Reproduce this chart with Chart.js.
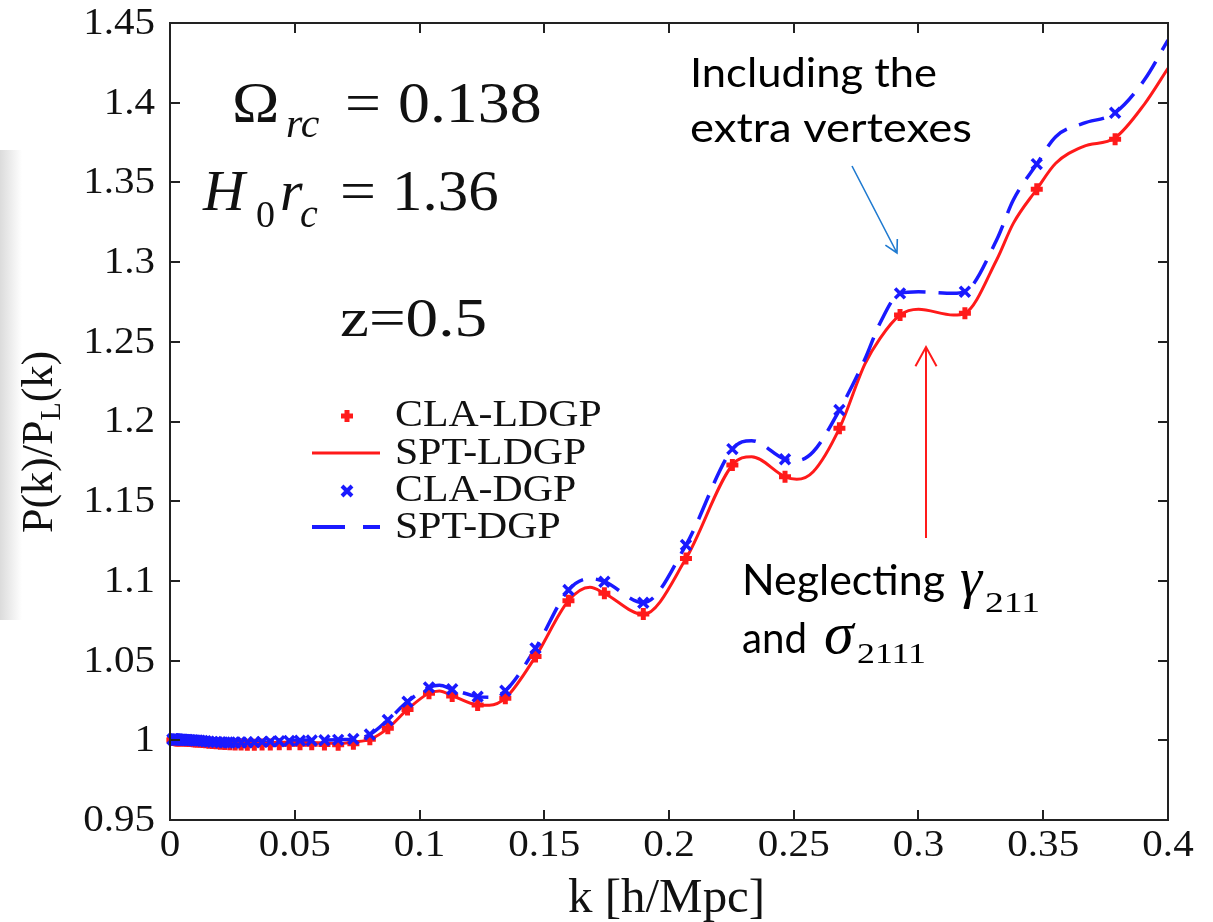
<!DOCTYPE html>
<html>
<head>
<meta charset="utf-8">
<script src="https://cdn.jsdelivr.net/npm/chart.js@4.4.0/dist/chart.umd.min.js"></script>
<style>
  html, body { margin: 0; padding: 0; background: #fff; }
  canvas { display: block; }
</style>
</head>
<body>
<canvas id="chart" width="1213" height="922"></canvas>
<script>
// smooth curves (SPT)
const kLine = [0, 0.01, 0.02, 0.03, 0.04, 0.05, 0.06, 0.068, 0.0735, 0.0801,
  0.0873, 0.0952, 0.1038, 0.108, 0.1131, 0.1233, 0.128, 0.1344, 0.1465, 0.1597,
  0.1683, 0.1741, 0.1897, 0.2068, 0.2254, 0.2331, 0.2465, 0.2512, 0.2578, 0.2683,
  0.2785, 0.2846, 0.2926, 0.3, 0.314, 0.3186, 0.3313, 0.338, 0.3474, 0.355,
  0.366, 0.3788, 0.3905, 0.4];
const sptLdgp = [1.0000, 0.9995, 0.9985, 0.9980, 0.9985, 0.9990, 0.9985, 0.9980, 0.9990, 1.0006,
  1.0075, 1.0194, 1.0295, 1.0310, 1.0280, 1.0222, 1.0220, 1.0264, 1.0525, 1.0876,
  1.0960, 1.0922, 1.0790, 1.1140, 1.1727, 1.1779, 1.1654, 1.1637, 1.1685, 1.1957,
  1.2360, 1.2522, 1.2668, 1.2704, 1.2668, 1.2679, 1.3013, 1.3243, 1.3457, 1.3620,
  1.3725, 1.3780, 1.3990, 1.4216];
const sptDgp = [1.0005, 1.0002, 0.9990, 0.9985, 0.9990, 1.0000, 1.0002, 1.0004, 1.0008, 1.0036,
  1.0127, 1.0242, 1.0332, 1.0345, 1.0320, 1.0274, 1.0270, 1.0311, 1.0577, 1.0943,
  1.1015, 1.0995, 1.0863, 1.1225, 1.1827, 1.1880, 1.1763, 1.1755, 1.1810, 1.2072,
  1.2390, 1.2618, 1.2804, 1.2814, 1.2804, 1.2814, 1.3139, 1.3390, 1.3615, 1.3787,
  1.3870, 1.3937, 1.4142, 1.4393];

// CLA points
const kMark = [0.0010, 0.0011, 0.0012, 0.0013, 0.0014, 0.0015, 0.0016, 0.0018, 0.0020, 0.0021,
  0.0023, 0.0025, 0.0028, 0.0030, 0.0033, 0.0036, 0.0039, 0.0043, 0.0047, 0.0051,
  0.0055, 0.0060, 0.0066, 0.0072, 0.0078, 0.0085, 0.0093, 0.0101, 0.0110, 0.0120,
  0.0131, 0.0143, 0.0156, 0.0170, 0.0185, 0.0202, 0.0220, 0.0240, 0.0261, 0.0285,
  0.0310, 0.0338, 0.0369, 0.0402, 0.0438, 0.0478, 0.0521, 0.0568, 0.0619, 0.0674,
  0.0735, 0.0801, 0.0873, 0.0952, 0.1038, 0.1131, 0.1233, 0.1344, 0.1465, 0.1597,
  0.1741, 0.1897, 0.2068, 0.2254, 0.2465, 0.2683, 0.2926, 0.3186, 0.3474, 0.3788];
const claLdgp = [1.0002, 1.0002, 1.0002, 1.0002, 1.0002, 1.0002, 1.0002, 1.0002, 1.0002, 1.0002,
  1.0001, 1.0001, 1.0001, 1.0001, 1.0001, 1.0001, 1.0001, 1.0001, 1.0001, 1.0001,
  1.0000, 0.9999, 0.9998, 0.9997, 0.9996, 0.9995, 0.9994, 0.9993, 0.9992, 0.9991,
  0.9989, 0.9987, 0.9985, 0.9983, 0.9981, 0.9979, 0.9977, 0.9975, 0.9974, 0.9973,
  0.9972, 0.9972, 0.9973, 0.9974, 0.9975, 0.9976, 0.9976, 0.9975, 0.9973, 0.9972,
  0.9978, 1.0006, 1.0075, 1.0194, 1.0295, 1.0278, 1.0222, 1.0264, 1.0525, 1.0876,
  1.0922, 1.0792, 1.1140, 1.1727, 1.1654, 1.1957, 1.2668, 1.2679, 1.3457, 1.3770];
const claDgp = [1.0006, 1.0006, 1.0006, 1.0006, 1.0006, 1.0006, 1.0006, 1.0005, 1.0005, 1.0005,
  1.0005, 1.0005, 1.0005, 1.0005, 1.0005, 1.0004, 1.0004, 1.0004, 1.0004, 1.0004,
  1.0003, 1.0003, 1.0002, 1.0002, 1.0001, 1.0001, 1.0000, 0.9999, 0.9999, 0.9998,
  0.9996, 0.9994, 0.9992, 0.9990, 0.9989, 0.9988, 0.9987, 0.9986, 0.9986, 0.9986,
  0.9987, 0.9988, 0.9990, 0.9992, 0.9994, 0.9996, 0.9998, 0.9999, 1.0000, 1.0003,
  1.0008, 1.0036, 1.0127, 1.0242, 1.0332, 1.0320, 1.0274, 1.0311, 1.0577, 1.0943,
  1.0995, 1.0863, 1.1225, 1.1827, 1.1763, 1.2072, 1.2804, 1.2814, 1.3615, 1.3937];

const xTicks = [0, 0.05, 0.1, 0.15, 0.2, 0.25, 0.3, 0.35, 0.4];
const xTickLabels = ["0", "0.05", "0.1", "0.15", "0.2", "0.25", "0.3", "0.35", "0.4"];
const yTicks = [0.95, 1, 1.05, 1.1, 1.15, 1.2, 1.25, 1.3, 1.35, 1.4, 1.45];
const yTickLabels = ["0.95", "1", "1.05", "1.1", "1.15", "1.2", "1.25", "1.3", "1.35", "1.4", "1.45"];

const RED = "#ff1a1a";
const BLUE = "#1a1aff";
const SERIF = '"Liberation Serif", "Times New Roman", serif';
const SANS = 'Lato, "Open Sans", sans-serif';

const pts = (xs, ys) => xs.map((x, i) => ({ x: x, y: ys[i] }));

// text with horizontal stretch
function txt(ctx, s, x, y, font, sx, align, base) {
  ctx.save();
  ctx.font = font;
  ctx.translate(x, y);
  ctx.scale(sx, 1);
  ctx.textAlign = align || "left";
  ctx.textBaseline = base || "alphabetic";
  ctx.fillText(s, 0, 0);
  ctx.restore();
}
// text squeezed/stretched to a given width
function fit(ctx, s, x, y, font, w) {
  ctx.save();
  ctx.font = font;
  const m = ctx.measureText(s).width;
  ctx.translate(x, y);
  ctx.scale(w / m, 1);
  ctx.fillText(s, 0, 0);
  ctx.restore();
}
function plus(ctx, x, y, r, lw, c) {
  ctx.save();
  ctx.strokeStyle = c; ctx.lineWidth = lw;
  ctx.beginPath();
  ctx.moveTo(x - r, y); ctx.lineTo(x + r, y);
  ctx.moveTo(x, y - r); ctx.lineTo(x, y + r);
  ctx.stroke();
  ctx.restore();
}
function cross(ctx, x, y, r, lw, c) {
  ctx.save();
  ctx.strokeStyle = c; ctx.lineWidth = lw;
  ctx.beginPath();
  ctx.moveTo(x - r, y - r); ctx.lineTo(x + r, y + r);
  ctx.moveTo(x - r, y + r); ctx.lineTo(x + r, y - r);
  ctx.stroke();
  ctx.restore();
}
function arrow(ctx, x1, y1, x2, y2, c, lw, head) {
  const a = Math.atan2(y2 - y1, x2 - x1);
  ctx.save();
  ctx.strokeStyle = c; ctx.lineWidth = lw;
  ctx.beginPath();
  ctx.moveTo(x1, y1); ctx.lineTo(x2, y2);
  ctx.moveTo(x2 - head * Math.cos(a - 0.5), y2 - head * Math.sin(a - 0.5));
  ctx.lineTo(x2, y2);
  ctx.lineTo(x2 - head * Math.cos(a + 0.5), y2 - head * Math.sin(a + 0.5));
  ctx.stroke();
  ctx.restore();
}

const decor = {
  id: "decor",
  beforeDraw(chart) {
    const ctx = chart.ctx;
    ctx.save();
    ctx.fillStyle = "#fff";
    ctx.fillRect(0, 0, chart.width, chart.height);
    // faint slide shadow on the left edge
    const g = ctx.createLinearGradient(0, 0, 22, 0);
    g.addColorStop(0, "rgba(190,190,190,0.55)");
    g.addColorStop(1, "rgba(190,190,190,0)");
    ctx.fillStyle = g;
    ctx.fillRect(0, 150, 22, 470);
    ctx.restore();
  },
  afterDraw(chart) {
    const ctx = chart.ctx;
    const a = chart.chartArea;
    const xs = chart.scales.x, ys = chart.scales.y;
    ctx.save();
    ctx.fillStyle = "#111";

    // frame + inward ticks
    ctx.strokeStyle = "#222";
    ctx.lineWidth = 2;
    ctx.strokeRect(a.left, a.top, a.right - a.left, a.bottom - a.top);
    ctx.beginPath();
    xTicks.forEach(v => {
      const px = Math.round(xs.getPixelForValue(v));
      ctx.moveTo(px, a.bottom); ctx.lineTo(px, a.bottom - 10);
      ctx.moveTo(px, a.top); ctx.lineTo(px, a.top + 10);
    });
    yTicks.forEach(v => {
      const py = Math.round(ys.getPixelForValue(v));
      ctx.moveTo(a.left, py); ctx.lineTo(a.left + 10, py);
      ctx.moveTo(a.right, py); ctx.lineTo(a.right - 10, py);
    });
    ctx.stroke();

    // tick labels
    const tf = "38px " + SERIF;
    xTicks.forEach((v, i) => txt(ctx, xTickLabels[i], xs.getPixelForValue(v), 856, tf, 1.08, "center"));
    yTicks.forEach((v, i) => txt(ctx, yTickLabels[i], 155, ys.getPixelForValue(v) + 1, tf, 1.08, "right", "middle"));

    // axis titles
    txt(ctx, "k [h/Mpc]", 568, 912, "48px " + SERIF, 1.02, "left");
    ctx.save();
    ctx.translate(52, 533);
    ctx.rotate(-Math.PI / 2);
    ctx.font = "44px " + SERIF;
    const w1 = ctx.measureText("P(k)/P").width;
    ctx.fillText("P(k)/P", 0, 0);
    ctx.font = "30px " + SERIF;
    const w2 = ctx.measureText("L").width;
    ctx.fillText("L", w1, 8);
    ctx.font = "44px " + SERIF;
    ctx.fillText("(k)", w1 + w2, 0);
    ctx.restore();

    // parameter block
    txt(ctx, "\u03A9", 232, 122, "58px " + SERIF, 1.1);
    txt(ctx, "rc", 286, 137, "italic 40px " + SERIF, 1.05);
    txt(ctx, "=", 345, 122, "58px " + SERIF, 1.1);
    txt(ctx, "0.138", 398, 122, "58px " + SERIF, 1.1);
    txt(ctx, "H", 203, 210, "italic 58px " + SERIF, 1.0);
    txt(ctx, "0", 256, 227, "38px " + SERIF, 1.0);
    txt(ctx, "r", 280, 210, "italic 58px " + SERIF, 1.0);
    txt(ctx, "c", 300, 227, "italic 40px " + SERIF, 1.0);
    txt(ctx, "=", 340, 210, "58px " + SERIF, 1.1);
    txt(ctx, "1.36", 392, 210, "58px " + SERIF, 1.05);
    fit(ctx, "z=0.5", 340, 336, "54px " + SERIF, 147);

    // callouts
    ctx.fillStyle = "#000";
    fit(ctx, "Including the", 690, 87, "40px " + SANS, 247);
    fit(ctx, "extra vertexes", 690, 142, "40px " + SANS, 282);
    fit(ctx, "Neglecting", 742, 595, "42px " + SANS, 203);
    txt(ctx, "\u03B3", 960, 597, "italic 56px " + SERIF, 1.0);
    fit(ctx, "211", 985, 612, "30px " + SERIF, 55);
    fit(ctx, "and", 742, 653, "42px " + SANS, 65);
    txt(ctx, "\u03C3", 824, 653, "italic 60px " + SERIF, 1.0);
    fit(ctx, "2111", 857, 663, "30px " + SERIF, 69);
    arrow(ctx, 852, 166, 897, 253, "#1f7ad0", 1.6, 14);
    arrow(ctx, 926, 538, 926, 347, "#ff1a1a", 2, 22);

    // legend
    ctx.fillStyle = "#111";
    const lf = "38px " + SERIF;
    plus(ctx, 347, 416, 6, 5, RED);
    txt(ctx, "CLA-LDGP", 395, 416, lf, 1.1, "left", "middle");
    ctx.strokeStyle = RED; ctx.lineWidth = 3;
    ctx.beginPath(); ctx.moveTo(312, 453); ctx.lineTo(380, 453); ctx.stroke();
    txt(ctx, "SPT-LDGP", 395, 454, lf, 1.1, "left", "middle");
    cross(ctx, 347, 491, 5, 4, BLUE);
    txt(ctx, "CLA-DGP", 395, 491, lf, 1.1, "left", "middle");
    ctx.strokeStyle = BLUE; ctx.lineWidth = 4;
    ctx.beginPath();
    ctx.moveTo(312, 527); ctx.lineTo(345, 527);
    ctx.moveTo(363, 527); ctx.lineTo(380, 527);
    ctx.stroke();
    txt(ctx, "SPT-DGP", 395, 528, lf, 1.1, "left", "middle");
    ctx.restore();
  }
};

new Chart(document.getElementById("chart"), {
  type: "scatter",
  data: {
    datasets: [
      {
        label: "CLA-DGP", data: pts(kMark, claDgp), order: 1, clip: false,
        pointStyle: "crossRot", pointRadius: 7, pointBorderWidth: 3.5,
        borderColor: BLUE, backgroundColor: BLUE, showLine: false
      },
      {
        label: "CLA-LDGP", data: pts(kMark, claLdgp), order: 2, clip: false,
        pointStyle: "cross", pointRadius: 6, pointBorderWidth: 5,
        borderColor: RED, backgroundColor: RED, showLine: false
      },
      {
        label: "SPT-DGP", data: pts(kLine, sptDgp), order: 3,
        showLine: true, pointRadius: 0, borderColor: BLUE, borderWidth: 3.5,
        borderDash: [26, 13], cubicInterpolationMode: "monotone"
      },
      {
        label: "SPT-LDGP", data: pts(kLine, sptLdgp), order: 4,
        showLine: true, pointRadius: 0, borderColor: RED, borderWidth: 3,
        cubicInterpolationMode: "monotone"
      }
    ]
  },
  options: {
    responsive: false,
    animation: false,
    devicePixelRatio: 1,
    layout: { padding: { left: 0, right: 45, top: 23, bottom: 0 } },
    plugins: { legend: { display: false }, tooltip: { enabled: false } },
    scales: {
      x: {
        type: "linear", min: 0, max: 0.4,
        ticks: { display: false, stepSize: 0.05 },
        grid: { display: false }, border: { display: false },
        afterFit: s => { s.height = 102; }
      },
      y: {
        type: "linear", min: 0.95, max: 1.45,
        ticks: { display: false, stepSize: 0.05 },
        grid: { display: false }, border: { display: false },
        afterFit: s => { s.width = 170; }
      }
    }
  },
  plugins: [decor]
});
</script>
</body>
</html>
